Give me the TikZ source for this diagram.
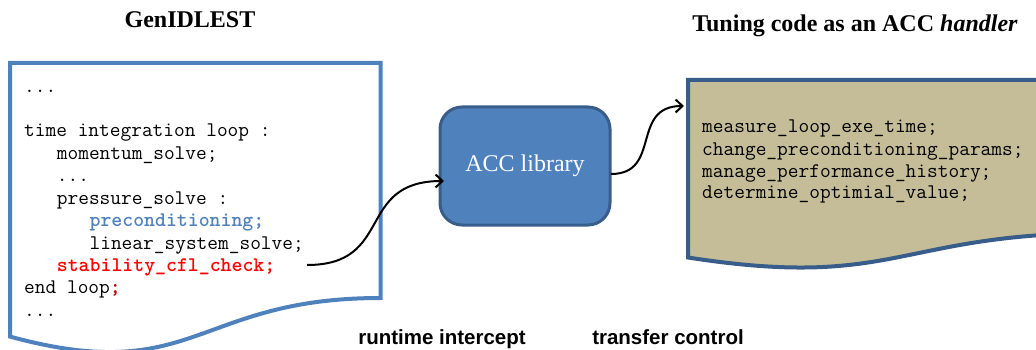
\documentclass[tikz,border=0pt]{standalone}
\usepackage{fontspec}
\setmainfont{Liberation Serif}
\setsansfont{Liberation Sans}
\newfontfamily\boldmono{lmmonolt10-bold.otf}
\usetikzlibrary{arrows.meta}
\definecolor{docblue}{RGB}{79,129,189}
\definecolor{darkblue}{RGB}{56,93,138}
\definecolor{tanfill}{RGB}{196,189,151}
\definecolor{codered}{RGB}{255,0,0}
\definecolor{darkred}{RGB}{192,0,0}
\tikzset{
  codeline/.style={anchor=base west, inner sep=0pt, font=\ttfamily\fontsize{20.8}{24}\selectfont},
  boldcode/.style={codeline, font=\boldmono\fontsize{20.8}{24}\selectfont},
  titletext/.style={anchor=base, inner sep=0pt, font=\bfseries\fontsize{24}{28}\selectfont},
  labeltext/.style={anchor=base, inner sep=0pt, font=\sffamily\bfseries\fontsize{20.5}{24}\selectfont},
  flow/.style={draw=black, line width=2pt, -{Straight Barb[length=7pt,width=13pt,line width=2pt]}},
  accbox/.style={draw=darkblue, fill=docblue, line width=3pt, rounded corners=22pt,
    minimum width=170pt, minimum height=118pt, inner sep=0pt,
    text=white, font=\fontsize{24}{28}\selectfont}
}
\begin{document}
\begin{tikzpicture}[x=1pt,y=-1pt]
\useasboundingbox (0,0) rectangle (1036,350);
\clip (0,0) rectangle (1036,350);
% left document shape
\draw[draw=docblue, line width=4pt, fill=white, line join=miter]
  (10,63) -- (380.5,63) -- (380.5,298)
  .. controls (195.2,298) and (195.2,387) .. (10,336.6) -- cycle;
% right document shape
\draw[draw=darkblue, line width=4pt, fill=tanfill, line join=miter]
  (688,80) -- (1106,80) -- (1106,233)
  .. controls (897,233) and (897,290) .. (688,257.5) -- cycle;
% titles
\node[titletext] (t1) at (190,28) {GenIDLEST};
\node[titletext] (t2) at (855,32) {Tuning code as an ACC \textit{handler}};
% left code
\node[codeline] (l1) at (24,93) {...};
\node[codeline] (l2) at (24,137) {time integration loop :};
\node[codeline] (l3) at (56.7,160) {momentum\_solve;};
\node[codeline] (l4) at (56.7,182) {...};
\node[codeline] (l5) at (56.7,204.5) {pressure\_solve :};
\node[boldcode, text=docblue] (l6) at (89.4,226.5) {preconditioning;};
\node[codeline] (l7) at (89.4,249) {linear\_system\_solve;};
\node[boldcode, text=codered] (l8) at (56.7,271) {stability\_cfl\_check;};
\node[codeline] (l9) at (24,293) {end loop\textcolor{darkred}{\boldmono;}};
\node[codeline] (l10) at (24,316) {...};
% right code
\node[codeline] (r1) at (702,133) {measure\_loop\_exe\_time;};
\node[codeline] (r2) at (702,155) {change\_preconditioning\_params;};
\node[codeline] (r3) at (702,177) {manage\_performance\_history;};
\node[codeline] (r4) at (702,198.5) {determine\_optimial\_value;};
% ACC library box
\node[accbox] (acc) at (525,166) {ACC library};
% labels
\node[labeltext] (lab1) at (442,344) {runtime intercept};
\node[labeltext] (lab2) at (668,344) {transfer control};
% connectors
\coordinate (a1s) at (307,265);
\coordinate (a1e) at (444,181);
\coordinate (a2s) at (611,174);
\coordinate (a2e) at (684,106);
\draw[flow] (a1s) .. controls (395,265) and (355,181) .. (a1e);
\draw[flow] (a2s) .. controls (662,174) and (630,106) .. (a2e);
\end{tikzpicture}
\end{document}
